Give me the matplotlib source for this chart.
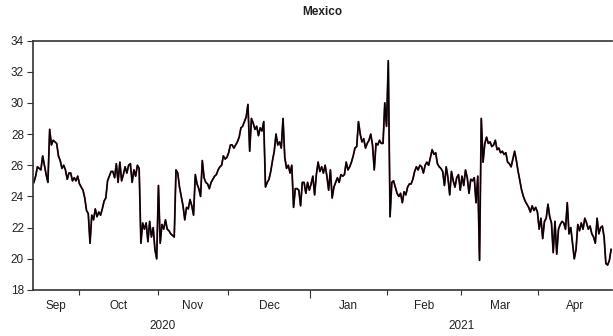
import numpy as np
import matplotlib
matplotlib.use("Agg")
import matplotlib.pyplot as plt

plt.rcParams["font.family"] = ["Liberation Sans", "DejaVu Sans"]

# Peso level, two observations per trading day, grouped by month
sep_2020 = [24.9, 25.3, 25.9, 25.8, 25.7, 26.6, 26.0, 25.4, 24.9, 28.3,
            27.3, 27.6, 27.5, 27.4, 26.6, 26.3, 25.8, 26.0, 25.7, 25.1,
            25.5, 25.5, 25.0, 25.2, 25.0, 25.3]
oct_2020 = [24.8, 24.6, 24.4, 23.9,
            23.1, 22.9, 21.0, 22.8, 22.5, 23.2, 22.7, 23.0, 22.8, 23.2,
            23.7, 23.9, 25.0, 25.3, 25.6, 25.6, 25.2, 26.1, 24.9, 26.2,
            25.0, 25.4, 25.9, 25.5, 26.0, 26.1, 24.9, 25.7, 25.3, 26.0,
            25.8, 21.0, 22.3, 21.9, 22.3, 21.1, 22.4, 21.4, 22.0, 20.6,
            20.0]
nov_2020 = [24.7, 21.0, 22.2, 21.9, 22.5, 21.9, 21.8, 21.6, 21.5,
            21.4, 25.7, 25.5, 24.6, 24.0, 23.4, 22.5, 23.3, 23.2, 23.8,
            23.4, 22.8, 25.4, 24.8, 24.5, 24.0, 26.3, 25.2, 24.9, 24.8,
            24.5, 24.9, 25.1, 25.3, 25.4, 25.7, 25.9, 26.0, 26.6, 26.4, 26.5]
dec_2020 = [26.8, 27.3, 27.3, 27.1, 27.3, 27.5, 27.8, 28.4, 28.5,
            28.8, 29.1, 29.9, 26.9, 29.0, 28.7, 28.3, 28.5, 27.9, 28.4,
            28.2, 28.8, 24.6, 24.9, 25.1, 25.6, 26.3, 26.9, 28.0, 27.3,
            27.5, 27.1, 29.0, 26.5, 25.8, 26.0, 25.5, 26.0, 23.3, 24.5,
            24.5, 24.4, 23.4, 24.9, 24.9, 24.2, 24.9, 24.4]
jan_2021 = [24.8, 25.3,
            24.1, 25.4, 26.2, 25.6, 25.9, 25.5, 26.0, 25.3, 24.4, 25.7,
            23.9, 24.6, 24.9, 25.2, 24.9, 25.4, 25.3, 25.4, 26.2, 25.7,
            25.9, 26.2, 26.6, 27.1, 27.2, 28.8, 28.0, 27.5, 27.7, 27.1,
            27.4, 27.6, 28.0, 27.3, 25.7, 27.4, 27.3, 27.6, 27.4, 27.4,
            30.0, 28.5]
feb_2021 = [32.7, 22.7, 24.9, 25.0, 24.6, 24.2, 24.0, 24.2,
            23.6, 24.3, 24.1, 24.6, 24.8, 24.8, 25.1, 25.6, 25.9, 25.7,
            26.0, 25.9, 25.5, 26.0, 26.2, 26.0, 26.5, 27.0, 26.7, 26.8,
            26.1, 25.9, 25.8, 25.6, 24.7, 25.9, 25.2, 24.1, 25.6, 25.0,
            24.6, 25.2, 25.4, 24.4]
mar_2021 = [25.3, 24.7, 25.7, 25.2, 24.2, 25.1,
            25.0, 25.2, 23.6, 25.3, 19.9, 29.0, 26.2, 27.4, 27.8, 27.4,
            27.5, 27.2, 27.3, 27.6, 27.0, 27.1, 26.8, 26.9, 26.7, 26.8,
            26.2, 26.1, 25.9, 26.4, 26.9, 26.3, 25.6, 25.0, 24.4, 24.0,
            23.7, 23.5, 23.3, 23.0, 23.4, 23.1, 23.3, 23.0]
apr_2021 = [21.9, 22.6,
            21.3, 22.4, 22.6, 23.5, 22.7, 22.3, 20.4, 22.4, 20.3, 21.9,
            22.2, 22.4, 22.3, 21.9, 23.6, 21.6, 22.0, 21.0, 20.0, 20.6,
            22.2, 21.8, 22.3, 21.9, 22.6, 22.3, 21.9, 22.1, 21.6, 21.4,
            21.0, 22.6, 21.6, 22.0, 22.1, 21.4, 19.7, 19.6, 19.9, 20.6]

months = ["Sep", "Oct", "Nov", "Dec", "Jan", "Feb", "Mar", "Apr"]
month_years = [2020, 2020, 2020, 2020, 2021, 2021, 2021, 2021]
month_series = [sep_2020, oct_2020, nov_2020, dec_2020,
                jan_2021, feb_2021, mar_2021, apr_2021]
y_ticks = [18, 20, 22, 24, 26, 28, 30, 32, 34]

values = np.concatenate([np.asarray(m, dtype=float) for m in month_series])
obs = np.arange(len(values))

counts = np.array([len(m) for m in month_series])
starts = np.concatenate([[0], np.cumsum(counts)[:-1]])
ends = starts + counts - 1

fig = plt.figure(figsize=(6.13, 3.36), dpi=100)
ax = fig.add_axes([33 / 613, 1 - 290 / 336, 579 / 613, 249.5 / 336])

ax.plot(obs, values, color="#7a2348", lw=1.3)
ax.plot(obs, values, color="black", lw=1.0)

ax.set_xlim(-0.5, len(values) - 0.5)
ax.set_ylim(18, 34)

for side in ("left", "bottom", "top", "right"):
    ax.spines[side].set_color("#333333")
    ax.spines[side].set_linewidth(1.2)
ax.spines["right"].set_visible(False)

ax.set_yticks(y_ticks)
ax.tick_params(axis="y", direction="out", length=4.5, width=0.8,
               colors="#333333", labelcolor="#222222", labelsize=8.5, pad=2)

# month boundaries as ticks, month names centred between them
ax.set_xticks(starts[1:] - 0.5)
ax.set_xticklabels([])
ax.tick_params(axis="x", which="major", direction="out", length=3.5,
               width=0.8, colors="#333333")
ax.set_xticks((starts + ends) / 2, minor=True)
ax.set_xticklabels(months, minor=True)
ax.tick_params(axis="x", which="minor", length=0, labelsize=8.5,
               labelcolor="#222222", pad=7.5)

# longer tick where the year changes
years = np.array(month_years)
for i in range(1, len(starts)):
    if years[i] != years[i - 1]:
        ax.xaxis.get_major_ticks()[i - 1].tick1line.set_markersize(5.5)

mids = (starts + ends) / 2
for yr in np.unique(years):
    sel = mids[years == yr]
    ax.text((sel.min() + sel.max()) / 2, -0.145, str(yr),
            transform=ax.get_xaxis_transform(), ha="center", va="center",
            fontsize=8.5, color="#222222")

fig.text(322.5 / 613, 1 - 12 / 336, "Mexico", ha="center", va="center",
         fontsize=8.5, fontweight="bold", color="#222222")

fig.savefig("out.png", dpi=100)
